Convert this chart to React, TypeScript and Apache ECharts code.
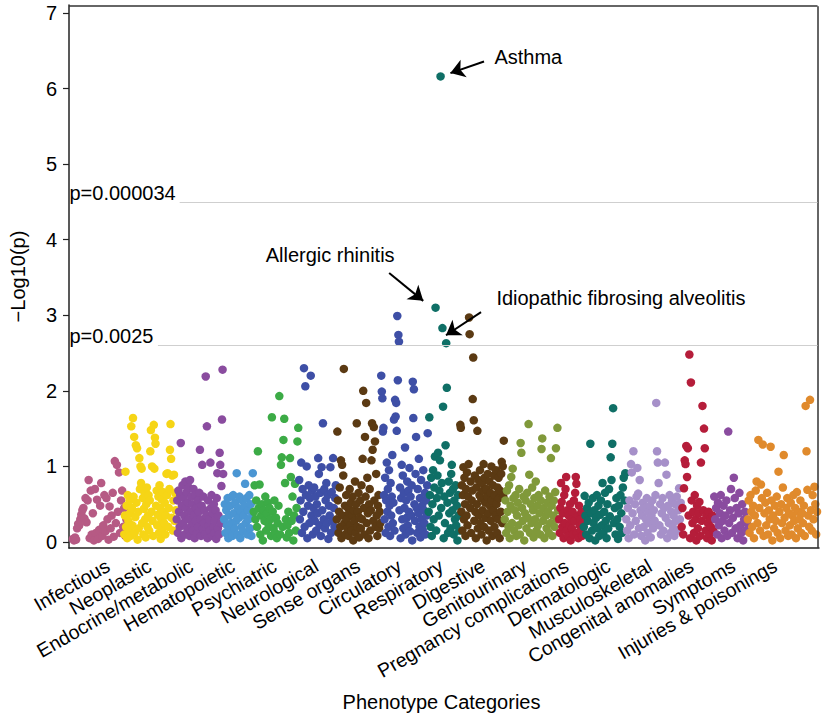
import React, { useEffect, useRef } from "react";
import * as echarts from "echarts";

const FONT = "'Liberation Sans', Arial, Helvetica, sans-serif";

const categories = [
  "Infectious", "Neoplastic", "Endocrine/metabolic", "Hematopoietic", "Psychiatric",
  "Neurological", "Sense organs", "Circulatory", "Respiratory", "Digestive",
  "Genitourinary", "Pregnancy complications", "Dermatologic", "Musculoskeletal",
  "Congenital anomalies", "Symptoms", "Injuries & poisonings",
];
const colors = [
  "#b65a84", "#f6d516", "#8a4c9f", "#4b96d3", "#3cab46",
  "#3e4fa6", "#5b3a13", "#3e4fa6", "#0f6f66", "#5b3a13",
  "#80993a", "#b51d3a", "#0f6f66", "#a690c9", "#b51d3a", "#8a4c9f", "#e08a2c",
];
// phenotype code ranges (ordered position along the x axis) per category
const codeStart = [4, 56, 109, 157, 187, 233, 271, 316, 364, 396, 441, 496, 521, 564, 620, 653, 687];
const codeEnd = [58, 108, 156, 186, 232, 270, 315, 363, 395, 440, 495, 520, 563, 619, 652, 686, 757];

const infectious = [0.04,0.02,0.06,0.03,0.18,0.24,0.22,0.30,0.36,0.42,0.45,0.31,0.58,0.26,0.55,0.82,0.05,0.68,0.10,0.38,0.02,0.70,0.12,0.56,0.04,0.16,0.48,0.78,0.08,0.22,0.62,0.14,0.58,0.30,0.03,0.47,0.18,0.35,0.65,0.07,1.07,0.25,1.02,0.40,0.92,0.12,0.55,0.68,0.20,0.45,0.08,0.30];
const neoplastic = [0.10,0.35,0.93,0.20,0.48,0.05,0.62,0.28,0.15,0.55,0.38,0.08,1.53,0.45,0.22,1.64,0.60,1.39,0.12,0.33,1.28,0.52,1.24,0.03,0.40,0.18,1.11,0.70,1.00,0.78,0.97,0.25,0.58,0.10,0.44,0.65,0.30,0.06,0.50,0.72,0.20,0.35,0.62,0.15,0.55,1.20,1.48,0.40,1.00,0.28,0.08,1.55,0.97,1.38,1.30,0.48,0.68,0.22,0.36,0.60,0.12,0.75,0.45,0.04,0.30,0.56,0.18,0.66,0.40,0.25,0.52,0.10,0.35,0.90,0.62,0.91,0.20,0.45,0.70,1.22,1.56,1.10,0.32,0.88,0.15,0.55,0.89,0.28,0.65,0.42];
const endocrine = [0.30,0.55,0.12,0.68,0.40,0.20,0.62,1.31,0.05,0.48,0.75,0.25,0.58,0.35,0.10,0.80,0.45,0.66,0.18,0.52,0.30,0.72,0.08,0.82,0.40,0.60,0.22,0.50,0.15,0.70,0.35,0.05,0.62,0.28,0.45,0.12,0.55,0.20,0.40,0.65,1.22,0.30,0.08,0.48,1.02,0.18,0.60,0.25,0.42,0.10,2.19,0.35,1.53,0.05,0.55,0.22,0.30,0.15,1.05,0.45,0.62,0.08,0.38,0.20,0.50,0.12,0.28,0.42,0.04,0.58,0.91,0.18,0.35,0.10,1.18,1.02,0.25,0.74,1.62,2.28,0.90];
const hematopoietic = [0.30,0.50,0.12,0.42,0.22,0.58,0.05,0.35,0.15,0.48,0.25,0.60,0.08,0.62,0.38,0.18,0.52,0.28,0.91,0.10,0.45,0.32,0.60,0.05,0.40,0.20,0.55,0.14,0.35,0.48,0.77,0.25,0.58,0.10,0.42,0.30,0.62,0.18,0.50,0.08,0.38,0.91];
const psychiatric = [0.40,0.75,0.30,0.55,0.20,1.20,0.45,0.76,0.10,0.35,0.50,0.02,0.42,0.28,0.60,0.15,0.38,0.52,0.22,0.45,0.30,0.08,1.65,0.40,0.18,0.55,0.12,0.32,0.05,0.25,0.48,1.93,0.10,1.02,1.12,0.20,1.35,1.63,0.78,0.30,0.06,0.22,0.40,0.12,1.11,0.86,0.28,0.60,0.02,0.35,0.77,0.15,0.45,1.33,1.51];
const neurological = [0.82,0.30,0.55,1.05,0.12,0.70,0.40,2.30,0.20,2.06,0.62,1.00,0.05,0.48,0.75,0.25,0.58,2.20,0.35,0.68,0.10,0.45,0.72,0.28,0.60,0.15,0.50,0.38,1.11,0.90,0.22,0.65,0.08,0.99,0.42,1.57,0.30,0.70,0.18,0.55,0.78,0.25,0.62,0.04,0.48,0.35,0.99,0.12,0.66,0.28,1.11,0.45,0.20,0.58,0.75];
const senseOrgans = [0.30,1.46,0.55,0.12,0.40,0.72,0.20,1.08,0.05,1.02,0.35,0.88,2.29,0.25,0.48,0.10,0.62,0.30,0.18,0.45,0.08,0.38,0.70,0.22,0.52,0.15,0.35,0.60,0.02,0.42,0.28,0.80,0.12,0.50,1.57,0.20,0.40,0.65,0.06,0.32,0.55,0.18,0.75,0.30,1.10,2.00,0.45,0.10,1.39,0.60,1.84,0.25,0.85,0.38,0.05,0.50,0.70,0.15,0.42,1.08,1.57,1.22,0.28,1.52,0.55,1.33,0.20,0.90,0.35,0.08,0.48,0.62,0.18,0.40,0.25];
const circulatory = [2.20,1.99,1.90,1.46,1.51,0.62,0.30,0.85,0.12,0.55,1.05,0.40,0.70,0.20,0.95,0.48,0.08,0.78,0.35,0.60,1.15,0.25,0.52,1.62,0.15,1.88,1.66,1.84,1.47,2.99,2.14,2.74,2.65,0.42,0.72,0.05,0.58,1.02,0.30,0.88,0.18,0.65,0.45,1.25,0.10,0.55,0.32,0.80,0.22,0.68,0.40,0.98,0.14,0.60,0.35,0.75,0.02,2.12,1.64,2.02,0.50,0.28,0.90,1.39,0.45,0.12,0.70,0.38,1.10,0.20,0.58,0.06,0.82,0.30,0.48,0.16,0.95,0.42,0.25,0.65,0.10,0.55,0.35,0.75,1.44];
const respiratory = [0.40,1.65,0.62,0.20,0.85,0.08,0.50,0.95,0.30,0.72,1.13,3.10,0.15,0.58,0.88,1.18,0.35,0.68,1.08,6.16,0.45,0.78,2.83,1.79,0.05,0.60,0.25,1.28,2.63,2.04,0.52,0.12,0.80,0.38,0.65,0.18,0.90,1.02,0.42,0.70,0.10,0.55,0.30,0.75,0.22,0.48,0.02,0.62,0.35,0.15];
const digestive = [1.55,1.51,0.40,0.75,0.15,0.62,0.99,0.30,0.85,0.50,0.08,0.70,0.35,0.92,0.22,0.60,1.03,2.97,2.75,0.45,0.80,0.12,0.55,0.68,1.89,2.44,1.61,0.28,0.88,0.40,0.05,0.72,0.50,1.47,0.18,0.82,0.35,0.62,0.95,0.25,0.58,0.10,0.78,0.42,0.68,1.03,0.20,0.85,0.52,0.32,0.70,0.02,0.60,0.90,0.38,0.15,0.80,0.48,0.65,0.28,1.00,0.55,0.08,0.75,0.42,0.88,0.20,0.62,0.35,0.95,0.50,0.12,0.72,0.30,0.85,0.58,0.05,0.68,0.40,0.90,1.06,0.25,1.00,0.60,1.34];
const genitourinary = [0.30,0.55,0.12,0.68,0.40,0.20,0.75,0.05,0.48,0.86,0.25,0.97,0.58,0.15,0.42,0.62,0.08,0.35,0.52,0.22,0.70,0.10,1.31,1.18,0.45,0.28,0.60,0.02,0.38,0.55,0.18,0.65,0.32,1.56,0.89,0.12,0.50,0.25,0.72,0.42,0.06,0.58,0.30,0.80,0.15,0.48,0.22,0.62,0.38,0.10,0.55,1.23,1.37,0.28,0.45,0.05,0.68,0.35,0.18,0.52,0.40,0.12,0.60,0.25,1.11,0.48,0.08,0.35,0.55,0.20,0.66,1.24,0.30,1.51,0.42];
const pregnancy = [0.30,0.12,0.45,0.78,0.53,0.20,0.38,0.05,0.62,0.25,0.70,0.86,0.15,0.42,0.08,0.35,0.22,0.50,0.02,0.30,0.18,0.40,0.10,0.55,0.28,0.65,0.86,0.77,0.12,0.35,0.05,0.48,0.22,0.30,0.15,0.40,0.08,0.25];
const dermatologic = [0.20,0.61,0.35,0.10,0.45,0.28,0.52,0.05,1.30,0.38,0.15,0.58,0.25,0.42,0.02,0.32,0.62,0.18,0.48,0.08,0.36,0.55,0.22,0.78,0.12,0.40,0.65,0.28,0.05,0.50,0.18,0.70,0.34,1.12,0.82,1.30,1.77,0.25,0.45,0.10,0.58,0.30,0.04,0.48,0.20,0.62,0.38,0.12,0.72,0.85,0.55,0.91];
const musculoskeletal = [0.30,0.15,0.45,0.05,0.55,0.22,1.03,0.92,0.38,1.20,0.10,0.50,0.28,0.60,0.98,0.64,0.18,0.82,0.42,0.08,0.35,0.52,0.20,0.45,0.02,0.30,0.58,0.12,0.40,0.25,0.48,0.06,0.35,0.55,0.18,0.42,0.28,0.62,1.84,1.20,1.05,0.78,0.22,0.50,0.10,0.38,0.58,0.15,0.45,1.05,0.32,0.89,0.05,0.48,0.25,0.62,0.12,0.40,0.55,0.20,0.35,0.08,0.50,0.28,0.60,0.15,0.42,0.71,0.30,0.52];
const congenital = [0.20,0.45,0.10,0.71,1.08,1.03,1.27,0.86,1.24,0.35,2.48,0.05,2.11,0.55,0.25,0.40,0.12,0.62,0.30,0.02,0.48,0.18,0.38,0.53,0.08,1.05,0.28,1.80,0.42,1.50,1.24,0.15,0.35,0.05,0.25,0.40,0.10,0.30,0.20,0.02,0.35,0.15];
const symptoms = [0.60,0.30,0.45,0.10,0.52,0.22,0.38,0.62,0.05,0.28,0.48,0.15,0.35,0.55,0.08,1.46,0.25,0.42,0.70,0.12,0.32,0.85,0.58,0.18,0.45,0.05,0.38,0.65,0.22,0.12,0.50,0.02,0.30,0.40,0.15,0.25];
const injuries = [0.30,0.55,0.12,0.62,0.40,0.20,0.48,0.05,0.35,0.68,0.80,0.25,1.35,0.45,0.15,0.76,0.58,1.29,0.08,0.38,0.52,0.22,0.65,0.10,0.42,0.30,1.26,0.55,0.02,0.35,0.18,0.48,0.28,0.60,0.12,0.93,0.40,0.05,0.50,0.25,0.72,1.15,0.32,0.15,0.45,0.58,0.08,0.38,0.22,0.52,0.10,0.35,0.62,0.28,0.45,0.05,0.66,0.18,0.40,0.30,0.55,0.12,0.38,0.25,0.48,0.08,1.80,1.20,0.69,0.35,0.20,1.88,0.42,0.15,0.62,0.30,0.73,0.50,0.10,0.40];

const categoryValues = [
  infectious, neoplastic, endocrine, hematopoietic, psychiatric, neurological,
  senseOrgans, circulatory, respiratory, digestive, genitourinary, pregnancy,
  dermatologic, musculoskeletal, congenital, symptoms, injuries,
];

const yTicks = [0, 1, 2, 3, 4, 5, 6, 7];
const xRange = [0, 759];
const yRange = [-0.08, 7.105];
// frame edges drawn just inside the plotting extent
const frameTop = 7.09;
const frameRight = 757.5;
const thresholdLabels = ["p=0.000034", "p=0.0025"];
const thresholdValues = [4.5, 2.6];
const thresholdLineStart = [112, 90];

// annotated phenotypes: label, label anchor, arrow tail, arrow tip (data coords)
const annotationNames = ["Asthma", "Allergic rhinitis", "Idiopathic fibrosing alveolitis"];
const annotationAnchors: [number, number][] = [[430, 6.42], [330, 3.8], [432, 3.23]];
const annotationSides = ["right", "left", "right"];
const arrowTails: [number, number][] = [[420, 6.357], [324, 3.558], [417, 3.042]];
const arrowTips: [number, number][] = [[386, 6.204], [358.5, 3.19], [381.5, 2.735]];

export default function App() {
  const ref = useRef<HTMLDivElement>(null);
  useEffect(() => {
    if (!ref.current) return;
    const chart = echarts.init(ref.current, undefined, { renderer: "svg" });
    const pointSeries = categories.map((name, c) => {
      const vals = categoryValues[c];
      const n = vals.length;
      const data = vals.map((v, i) => [
        codeStart[c] + ((codeEnd[c] - codeStart[c]) * i) / (n - 1),
        v,
      ]);
      return {
        name,
        type: "scatter",
        xAxisIndex: 0,
        yAxisIndex: 0,
        data,
        symbol: "circle",
        symbolSize: 8.5,
        itemStyle: { color: colors[c], opacity: 1 },
        silent: true,
        z: 3,
      };
    });

    const option: any = {
      animation: false,
      backgroundColor: "#ffffff",
      textStyle: { fontFamily: FONT },
      grid: [
        { left: 60, right: 3, top: 5, bottom: 169, show: false },
        { left: 87, right: 26, top: 5, bottom: 169, show: false },
      ],
      xAxis: [
        {
          gridIndex: 0, type: "value", min: xRange[0], max: xRange[1],
          axisLine: { show: true, onZero: false, lineStyle: { color: "#222", width: 1.5 } },
          axisTick: { show: false }, axisLabel: { show: false },
          splitLine: { show: false },
        },
        {
          gridIndex: 1, type: "category", data: categories, boundaryGap: true,
          axisLine: { show: false }, axisTick: { show: false },
          axisLabel: {
            interval: 0, rotate: 30, margin: 16, fontSize: 19.5,
            color: "#000", fontFamily: FONT,
          },
          name: "Phenotype Categories", nameLocation: "middle", nameGap: 144,
          nameTextStyle: { fontSize: 20, color: "#000", fontFamily: FONT },
        },
      ],
      yAxis: [
        {
          gridIndex: 0, type: "value", min: yRange[0], max: yRange[1],
          axisLine: { show: true, onZero: false, lineStyle: { color: "#222", width: 1.5 } },
          axisTick: { show: true, length: 6, customValues: yTicks, lineStyle: { color: "#222", width: 1.2 } },
          axisLabel: { customValues: yTicks, fontSize: 20, color: "#000", margin: 12, fontFamily: FONT },
          splitLine: { show: false },
          name: "\u2212Log10(p)", nameLocation: "middle", nameGap: 41, nameRotate: 90,
          nameTextStyle: { fontSize: 20, color: "#000", fontFamily: FONT },
        },
        { gridIndex: 1, type: "value", show: false },
      ],
      series: [
        {
          name: "frame", type: "scatter", data: [], xAxisIndex: 0, yAxisIndex: 0,
          silent: true, z: 6, clip: false,
          markLine: {
            silent: true, symbol: "none",
            lineStyle: { color: "#333", width: 1.5, type: "solid" },
            label: { show: false },
            data: [
              [{ coord: [xRange[0], frameTop] }, { coord: [frameRight, frameTop] }],
              [{ coord: [frameRight, yRange[0]] }, { coord: [frameRight, frameTop] }],
            ],
          },
        },
        {
          name: "thresholds", type: "scatter", data: [], xAxisIndex: 0, yAxisIndex: 0,
          silent: true, z: 1,
          markLine: {
            silent: true, symbol: "none",
            lineStyle: { color: "#cfcfcf", width: 1.2, type: "solid" },
            label: { show: false },
            data: thresholdValues.map((v, i) => [
              { coord: [thresholdLineStart[i], v] },
              { coord: [frameRight, v] },
            ]),
          },
          markPoint: {
            silent: true, symbol: "circle", symbolSize: 1,
            itemStyle: { color: "transparent" },
            label: {
              show: true, position: "right", distance: 0, formatter: "{b}",
              fontSize: 20, color: "#000", fontFamily: FONT,
            },
            data: thresholdLabels.map((t, i) => ({ name: t, coord: [0, thresholdValues[i] + 0.12] })),
          },
        },
        ...pointSeries,
        {
          name: "annotations", type: "scatter", data: [], xAxisIndex: 0, yAxisIndex: 0,
          silent: true, z: 5,
          markLine: {
            silent: true, symbol: ["none", "arrow"], symbolSize: 14,
            lineStyle: { color: "#000", width: 2, type: "solid" },
            itemStyle: { color: "#000" },
            label: { show: false },
            data: arrowTails.map((t, i) => [{ coord: t }, { coord: arrowTips[i] }]),
          },
          markPoint: {
            silent: true, symbol: "circle", symbolSize: 1,
            itemStyle: { color: "transparent" },
            data: annotationNames.map((nm, i) => ({
              name: nm, coord: annotationAnchors[i],
              label: {
                show: true, position: annotationSides[i], distance: 0, formatter: "{b}",
                fontSize: 20, color: "#000", fontFamily: FONT,
              },
            })),
          },
        },
      ],
    };
    chart.setOption(option);
    return () => chart.dispose();
  }, []);
  return (
    <div
      ref={ref}
      style={{ position: "fixed", left: 0, top: 0, width: 822, height: 717, background: "#fff" }}
    />
  );
}
